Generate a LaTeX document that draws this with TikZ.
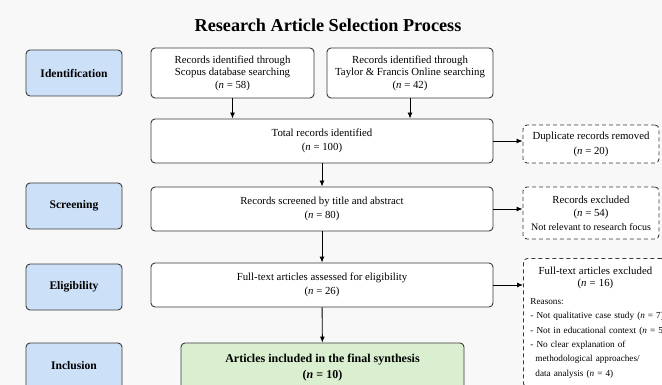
\documentclass[tikz,border=0pt]{standalone}
\usepackage{fontspec}
\setmainfont{Liberation Serif}
\usepackage{tikz}
\usetikzlibrary{arrows.meta}

\definecolor{bgcol}{HTML}{F8F8F8}
\definecolor{stagecol}{HTML}{CCE0F8}
\definecolor{inclcol}{HTML}{DAEFD0}
\definecolor{linecol}{HTML}{3A3A3A}

\tikzset{
  box/.style={draw=linecol, line width=0.9pt, rounded corners=4pt, fill=white,
    align=center, inner sep=0pt},
  stage/.style={box, fill=stagecol, minimum width=96, minimum height=46,
    font=\fontsize{11.6}{14}\selectfont\bfseries},
  srcbox/.style={box, minimum height=50, font=\fontsize{10.8}{12.5}\selectfont},
  mainbox/.style={box, minimum width=342, minimum height=44,
    font=\fontsize{10.8}{14.5}\selectfont},
  inclbox/.style={box, fill=inclcol, minimum width=283, minimum height=50,
    font=\fontsize{12}{16}\selectfont\bfseries},
  exbox/.style={box, dashed, dash pattern=on 4pt off 3pt, minimum width=136},
  arr/.style={draw=black, line width=0.9pt, -{Latex[length=6pt,width=5pt]}}
}

\begin{document}
\begin{tikzpicture}[x=1pt,y=-1pt]
    \useasboundingbox (0,0) rectangle (662,385);
    \fill[bgcol] (0,0) rectangle (662,385);
    \clip (0,0) rectangle (662,385);

    \node[font=\fontsize{18.2}{20}\selectfont\bfseries] at (328,25) (title) {Research Article Selection Process};

    % stages
    \node[stage] at (74,73) (ident) {Identification};
    \node[stage] at (74,206) (screen) {Screening};
    \node[stage] at (74,287) (elig) {Eligibility};
    \node[stage] at (74,366) (incl) {Inclusion};

    % flow
    \node[srcbox, minimum width=163] at (232.5,73) (scopus) {Records identified through\\Scopus database searching\\(\textit{n} = 58)};
    \node[srcbox, minimum width=166] at (410,73) (taylor) {Records identified through\\Taylor \& Francis Online searching\\(\textit{n} = 42)};
    \node[mainbox] at (322,141) (total) {Total records identified\\(\textit{n} = 100)};
    \node[mainbox] at (322,209) (screened) {Records screened by title and abstract\\(\textit{n} = 80)};
    \node[mainbox] at (322,285) (fulltext) {Full-text articles assessed for eligibility\\(\textit{n} = 26)};
    \node[inclbox] at (322.5,368) (included) {Articles included in the final synthesis\\(\textit{n} = 10)};

    % exclusions
    \node[exbox, minimum height=38, font=\fontsize{10.8}{15}\selectfont] at (591,144) (dupl) {Duplicate records removed\\(\textit{n} = 20)};
    \node[exbox, minimum height=52, font=\fontsize{10.8}{13.5}\selectfont] at (591,213) (excl) {Records excluded\\(\textit{n} = 54)\\{\fontsize{10}{12}\selectfont Not relevant to research focus}};
    \node[exbox, anchor=north west, align=left, text width=128, inner xsep=7, inner ysep=9,
      font=\fontsize{9.2}{14.4}\selectfont] at (523,258) (ftexcl)
      {{\centering\fontsize{10.8}{12}\selectfont\hspace*{2pt}Full-text articles excluded\\\hspace*{2pt}(\textit{n} = 16)\par}
       \vspace{3pt}Reasons:\\
       \mbox{- Not qualitative case study (\textit{n} = 7)}\\
       \mbox{- Not in educational context (\textit{n} = 5)}\\
       - No clear explanation of\\
       \hspace*{5pt}methodological approaches/\\
       \hspace*{5pt}data analysis (\textit{n} = 4)};

    \draw[arr] (scopus) -- (scopus |- total.north);
    \draw[arr] (taylor) -- (taylor |- total.north);
    \draw[arr] (total) -- (screened);
    \draw[arr] (screened) -- (fulltext);
    \draw[arr] (fulltext) -- (included);
    \draw[arr] (total.east) -- (total.east -| dupl.west);
    \draw[arr] (screened.east) -- (screened.east -| excl.west);
    \draw[arr] (fulltext.east) -- (fulltext.east -| ftexcl.west);
\end{tikzpicture}
\end{document}
